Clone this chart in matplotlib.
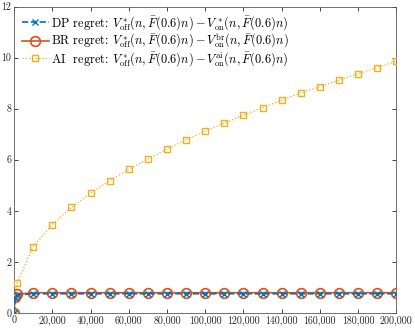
import matplotlib
matplotlib.use("Agg")
import matplotlib.pyplot as plt
import matplotlib.ticker as ticker

plt.rcParams['font.family'] = 'cmr10'
plt.rcParams['mathtext.fontset'] = 'cm'
plt.rcParams['axes.formatter.use_mathtext'] = True

# horizon n and regrets
n_vals = [0, 500, 1500, 10000, 20000, 30000, 40000, 50000, 60000, 70000, 80000,
          90000, 100000, 110000, 120000, 130000, 140000, 150000, 160000,
          170000, 180000, 190000, 200000]
dp_regret = [0, 0.58, 0.70, 0.75, 0.75, 0.75, 0.75, 0.75, 0.75, 0.75, 0.75,
             0.75, 0.75, 0.75, 0.75, 0.75, 0.75, 0.75, 0.75, 0.75, 0.75, 0.75, 0.75]
br_regret = [0, 0.62, 0.73, 0.79, 0.79, 0.79, 0.79, 0.79, 0.79, 0.79, 0.79,
             0.79, 0.79, 0.79, 0.79, 0.79, 0.79, 0.79, 0.79, 0.79, 0.79, 0.79, 0.79]
ai_regret = [0, 0.60, 1.16, 2.60, 3.46, 4.13, 4.69, 5.18, 5.62, 6.03, 6.42,
             6.78, 7.12, 7.44, 7.74, 8.04, 8.33, 8.62, 8.86, 9.12, 9.37, 9.61, 9.86]

x_ticks = list(range(0, 200001, 20000))
y_ticks = [0, 2, 4, 6, 8, 10, 12]

blue = '#0072BD'
orange = '#D95319'
yellow = '#EDB120'

fig = plt.figure(figsize=(4.15, 3.29), dpi=100)
ax = fig.add_axes([0.034, 0.049, 0.921, 0.931])

lab_dp = r'DP regret: $V^*_{\rm off}(n,\bar{F}(0.6)n)-V^*_{\rm on}(n,\bar{F}(0.6)n)$'
lab_br = r'BR regret: $V^*_{\rm off}(n,\bar{F}(0.6)n)-V^{\rm br}_{\rm on}(n,\bar{F}(0.6)n)$'
lab_ai = r'AI  regret: $V^*_{\rm off}(n,\bar{F}(0.6)n)-V^{\rm ai}_{\rm on}(n,\bar{F}(0.6)n)$'

ax.plot(n_vals, dp_regret, '--x', color=blue, lw=1.2, ms=4.5, mew=1.0,
        label=lab_dp, zorder=5)
ax.plot(n_vals, br_regret, '-o', color=orange, lw=1.2, ms=7, mew=1.2,
        mfc='none', label=lab_br, zorder=4)
ax.plot(n_vals, ai_regret, ':s', color=yellow, lw=0.9, ms=5, mew=1.0,
        mfc='none', label=lab_ai, zorder=3)

ax.set_xlim(0, 200000)
ax.set_ylim(0, 12)
ax.set_xticks(x_ticks)
ax.set_yticks(y_ticks)
ax.xaxis.set_major_formatter(ticker.FuncFormatter(lambda v, p: '{:,}'.format(int(v))))
ax.yaxis.set_major_formatter(ticker.FuncFormatter(lambda v, p: '%d' % v))
ax.tick_params(direction='in', top=True, right=True, length=3, width=0.6,
               labelsize=7.2, colors='0.15', pad=2)
for s in ax.spines.values():
    s.set_color('0.35')
    s.set_linewidth(0.6)

leg = ax.legend(loc='upper left', fontsize=8.9, frameon=False, handlelength=2.2,
                handletextpad=0.2, borderaxespad=0.3, borderpad=0.3,
                labelspacing=0.0)

fig.savefig('out.png', dpi=100)
